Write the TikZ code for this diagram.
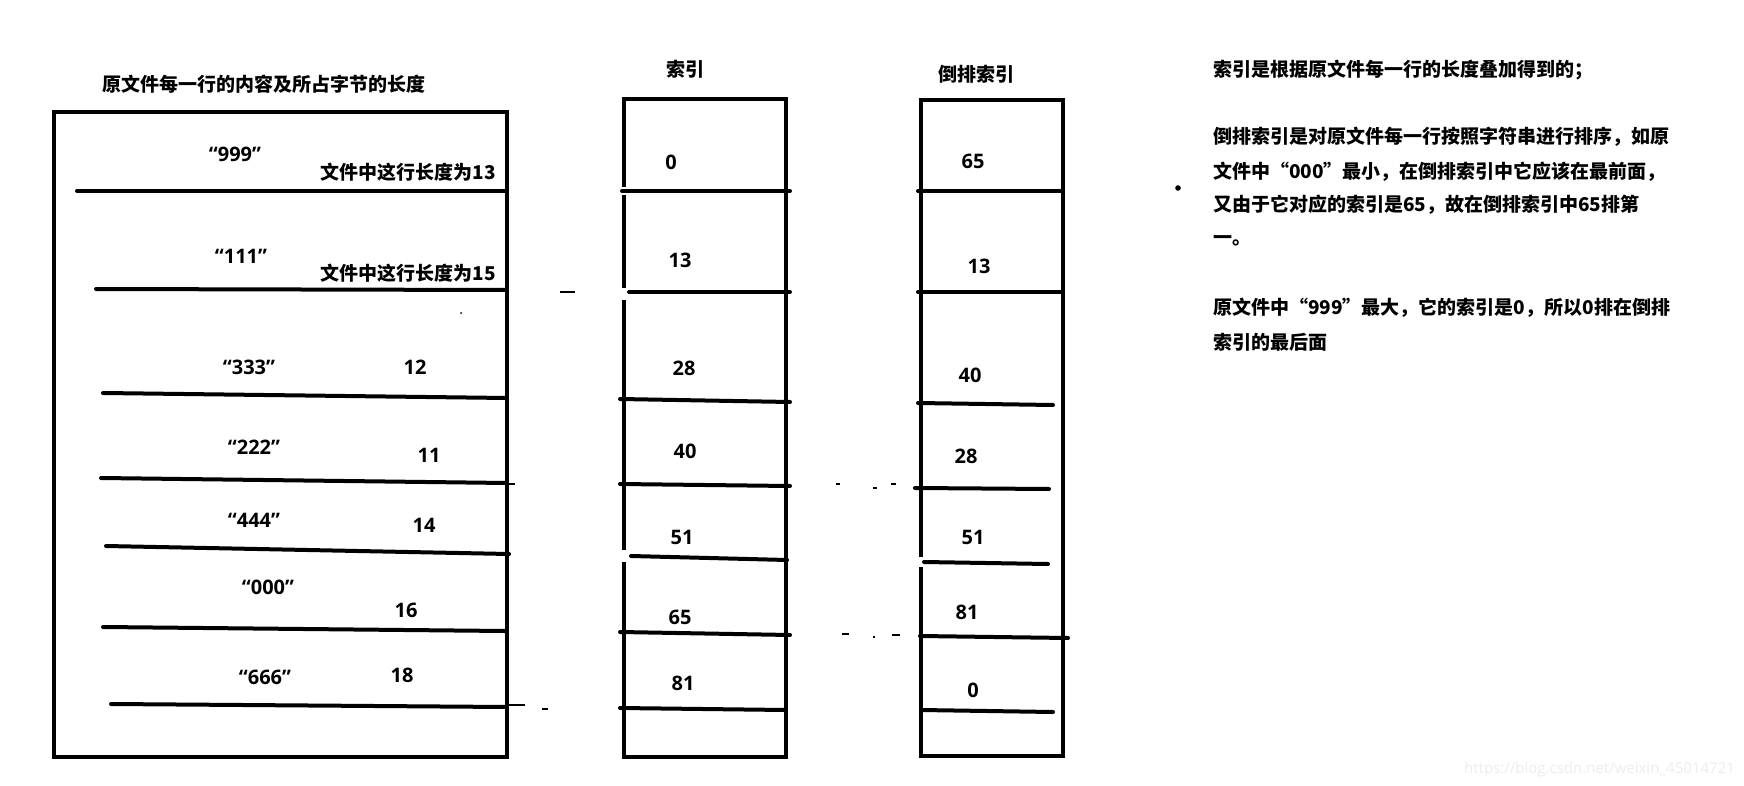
\documentclass[tikz,border=0pt]{standalone}
\usepackage{fontspec}
\newfontfamily\cjk{Noto Sans CJK SC}
\newfontfamily\lat{Open Sans}
\begin{document}
\begin{tikzpicture}[x=1pt,y=-1pt,
  boxline/.style={line width=4pt, line cap=butt, line join=miter},
  rowline/.style={line width=4pt, line cap=round},
  thinmark/.style={line width=1.2pt},
  num/.style={font=\lat\bfseries\fontsize{20}{24}\selectfont, inner sep=0pt, anchor=base},
  quoted/.style={font=\lat\bfseries\fontsize{20}{24}\selectfont, inner sep=0pt, anchor=base},
  lentext/.style={font=\cjk\bfseries\fontsize{19}{24}\selectfont, inner sep=0pt, anchor=base},
  heading/.style={font=\cjk\bfseries\fontsize{19}{24}\selectfont, inner sep=0pt, anchor=base},
  heading2/.style={font=\cjk\bfseries\fontsize{19}{24}\selectfont, inner sep=0pt, anchor=base},
  body/.style={font=\cjk\bfseries\fontsize{19}{24}\selectfont, inner sep=0pt, anchor=base west},
]
\useasboundingbox[fill=white] (0,0) rectangle (1744,786);

% ---------- headings ----------
\node[heading] (hfile) at (264,92) {原文件每一行的内容及所占字节的长度};
\node[heading2] (hidx) at (685,77) {索引};
\node[heading2] (hinv) at (976,82) {倒排索引};

% ---------- left box: file contents ----------
\draw[boxline] (54,112) rectangle (507,757);
\draw[rowline] (77,191) -- (507,191);
\draw[rowline] (96,289) -- (507,290);
\draw[rowline] (103,393) -- (507,398);
\draw[rowline] (101,478) -- (507,483);
\draw[rowline] (106,546) -- (509,554);
\draw[rowline] (103,627) -- (505,631);
\draw[rowline] (111,704) -- (507,707);
\draw[thinmark] (507,484) -- (515,484);
\draw[thinmark] (509,705) -- (525,705);
\draw[thinmark] (542,709) -- (548,709);
\draw[thinmark] (560,292) -- (575,292);
\fill (461,313) circle (1pt);

\node[quoted] (s999) at (235,162) {“999”};
\node[lentext] (n13) at (408,180) {文件中这行长度为13};
\node[quoted] (s111) at (241,264) {“111”};
\node[lentext] (n15) at (408,280) {文件中这行长度为15};
\node[quoted] (s333) at (249,374) {“333”};
\node[num] (n12) at (415,374) {12};
\node[quoted] (s222) at (254,454) {“222”};
\node[num] (n11) at (429,462) {11};
\node[quoted] (s444) at (254,527) {“444”};
\node[num] (n14) at (424,532) {14};
\node[quoted] (s000) at (268,594) {“000”};
\node[num] (n16) at (406,617) {16};
\node[quoted] (s666) at (265,684) {“666”};
\node[num] (n18) at (402,682) {18};

% ---------- index box ----------
\draw[boxline] (624,187) -- (624,99) -- (786,99) -- (786,757) -- (624,757) -- (624,562);
\draw[boxline] (624,195) -- (624,288);
\draw[boxline] (624,300) -- (624,550);
\draw[rowline] (622,191) -- (790,191);
\draw[rowline] (629,292) -- (790,292);
\draw[rowline] (620,399) -- (790,402);
\draw[rowline] (620,484) -- (790,486);
\draw[rowline] (631,556) -- (787,560);
\draw[rowline] (620,632) -- (790,635);
\draw[rowline] (620,708) -- (786,710);

\node[num] (i0) at (671,170) {0};
\node[num] (i13) at (680,268) {13};
\node[num] (i28) at (684,375) {28};
\node[num] (i40) at (685,458) {40};
\node[num] (i51) at (682,544) {51};
\node[num] (i65) at (680,624) {65};
\node[num] (i81) at (683,690) {81};

% ---------- marks between boxes ----------
\draw[thinmark] (836,484) -- (840,484);
\draw[thinmark] (873,488) -- (877,488);
\draw[thinmark] (891,484) -- (896,484);
\draw[thinmark] (913,488) -- (918,488);
\draw[thinmark] (842,634) -- (849,634);
\draw[thinmark] (873,637) -- (875,637);
\draw[thinmark] (892,635) -- (900,635);

% ---------- inverted index box ----------
\draw[boxline] (921,557) -- (921,100) -- (1063,100) -- (1063,756) -- (921,756) -- (921,567);
\draw[rowline] (918,191) -- (1063,191);
\draw[rowline] (918,292) -- (1063,292);
\draw[rowline] (918,403) -- (1053,405);
\draw[rowline] (915,488) -- (1049,489);
\draw[rowline] (924,562) -- (1048,564);
\draw[rowline] (920,636) -- (1068,638);
\draw[rowline] (921,710) -- (1053,712);

\node[num] (v65) at (973,169) {65};
\node[num] (v13) at (979,273) {13};
\node[num] (v40) at (970,382) {40};
\node[num] (v28) at (966,463) {28};
\node[num] (v51) at (973,544) {51};
\node[num] (v81) at (967,619) {81};
\node[num] (v0) at (973,697) {0};

% ---------- explanation ----------
\fill (1178,188) circle (2.8pt);
\node[body] (t1) at (1213,77) {索引是根据原文件每一行的长度叠加得到的；};
\node[body] (t2) at (1213,144) {倒排索引是对原文件每一行按照字符串进行排序，如原};
\node[body] (t3) at (1213,179) {文件中“000”最小，在倒排索引中它应该在最前面，};
\node[body] (t4) at (1213,212) {又由于它对应的索引是65，故在倒排索引中65排第};
\node[body] (t5) at (1213,245) {一。};
\node[body] (t6) at (1213,314) {原文件中“999”最大，它的索引是0，所以0排在倒排};
\node[body] (t7) at (1213,349) {索引的最后面};

% ---------- watermark ----------
\node[font=\lat\fontsize{15}{18}\selectfont, text=black!7, anchor=base east, inner sep=0pt] (wm) at (1735,773) {https://blog.csdn.net/weixin\_45014721};
\end{tikzpicture}
\end{document}
